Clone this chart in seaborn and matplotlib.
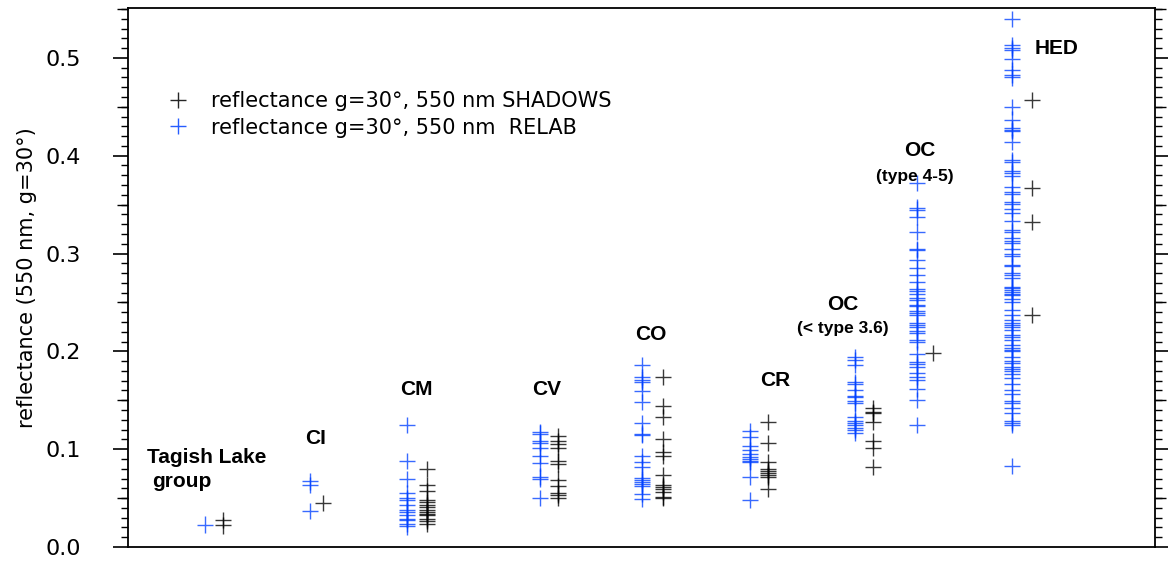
import numpy as np
import pandas as pd
import matplotlib
matplotlib.use("Agg")
import matplotlib.pyplot as plt
import seaborn as sns

# ---------------- data ----------------
groups = ["Tagish Lake", "CI", "CM", "CV", "CO", "CR", "OC<3.6", "OC4-5", "HED"]

relab_tagish = [0.023]
relab_ci = [0.067, 0.063, 0.037]
relab_cm = [0.125, 0.088, 0.0695, 0.0556, 0.050, 0.048, 0.043, 0.038, 0.036, 0.033,
            0.029, 0.0276, 0.024, 0.021]
relab_cv = [0.118, 0.116, 0.108, 0.106, 0.101, 0.093, 0.0856, 0.072, 0.070, 0.0505]
relab_co = [0.186, 0.1735, 0.171, 0.169, 0.159, 0.148, 0.1265, 0.116, 0.1145, 0.093,
            0.0873, 0.0815, 0.071, 0.069, 0.066, 0.064, 0.062, 0.054, 0.049]
relab_cr = [0.119, 0.112, 0.103, 0.099, 0.095, 0.092, 0.090, 0.088, 0.0866, 0.072, 0.048]
relab_oc36 = [0.194, 0.191, 0.186, 0.169, 0.167, 0.161, 0.154, 0.153, 0.149, 0.147,
              0.1326, 0.129, 0.127, 0.125, 0.122, 0.120, 0.117]
relab_oc45 = [0.3725, 0.347, 0.345, 0.337, 0.322, 0.305, 0.304, 0.2935, 0.285, 0.278,
              0.271, 0.2635, 0.262, 0.259, 0.255, 0.253, 0.247, 0.246, 0.241, 0.239,
              0.237, 0.229, 0.227, 0.225, 0.221, 0.219, 0.212, 0.210, 0.197, 0.189,
              0.187, 0.184, 0.178, 0.1735, 0.171, 0.162, 0.150, 0.125]
relab_hed = [0.540, 0.513, 0.510, 0.508, 0.499, 0.488, 0.483, 0.480, 0.450, 0.437,
             0.428, 0.426, 0.425, 0.414, 0.396, 0.394, 0.384, 0.382, 0.379, 0.368,
             0.363, 0.361, 0.353, 0.351, 0.346, 0.341, 0.333, 0.324, 0.322, 0.316,
             0.313, 0.3105, 0.305, 0.300, 0.297, 0.288, 0.287, 0.280, 0.278, 0.275,
             0.266, 0.2645, 0.263, 0.261, 0.259, 0.258, 0.254, 0.250, 0.242, 0.237,
             0.232, 0.229, 0.227, 0.225, 0.222, 0.217, 0.215, 0.212, 0.2065, 0.203,
             0.201, 0.200, 0.194, 0.1905, 0.188, 0.184, 0.182, 0.180, 0.177, 0.1725,
             0.167, 0.1605, 0.156, 0.149, 0.147, 0.142, 0.137, 0.129, 0.127, 0.125,
             0.083]

shadows_tagish = [0.028, 0.022]
shadows_ci = [0.045]
shadows_cm = [0.080, 0.063, 0.057, 0.048, 0.046, 0.043, 0.041, 0.038, 0.036, 0.034,
              0.033, 0.029, 0.027, 0.024]
shadows_cv = [0.1135, 0.108, 0.105, 0.1015, 0.088, 0.085, 0.069, 0.062, 0.055, 0.053, 0.050]
shadows_co = [0.1735, 0.1445, 0.133, 0.110, 0.0975, 0.093, 0.0736, 0.0634, 0.0617,
              0.059, 0.0566, 0.051, 0.050]
shadows_cr = [0.128, 0.106, 0.0866, 0.080, 0.078, 0.076, 0.0736, 0.072, 0.059]
shadows_oc36 = [0.142, 0.138, 0.1365, 0.1275, 0.1087, 0.101, 0.082]
shadows_oc45 = [0.198]
shadows_hed = [0.457, 0.367, 0.332, 0.237]

relab_all = [relab_tagish, relab_ci, relab_cm, relab_cv, relab_co, relab_cr,
             relab_oc36, relab_oc45, relab_hed]
shadows_all = [shadows_tagish, shadows_ci, shadows_cm, shadows_cv, shadows_co,
               shadows_cr, shadows_oc36, shadows_oc45, shadows_hed]

lab_shadows = "reflectance g=30°, 550 nm SHADOWS"
lab_relab = "reflectance g=30°, 550 nm  RELAB"

# ---------------- layout ----------------
relab_x = [205, 310, 407, 540, 642, 750, 855, 917, 1012]
shadows_x = [223, 323, 427, 558, 663, 768, 873, 933, 1032]

rows = []
for g, xs, vals in zip(groups, shadows_x, shadows_all):
    for v in vals:
        rows.append({"group": g, "x": xs, "value": v, "source": lab_shadows})
for g, xs, vals in zip(groups, relab_x, relab_all):
    for v in vals:
        rows.append({"group": g, "x": xs, "value": v, "source": lab_relab})
df = pd.DataFrame(rows)

sns.set_theme(style="white")
plt.rcParams["font.family"] = ["DejaVu Sans"]
plt.rcParams["text.color"] = "black"

fig = plt.figure(figsize=(11.68, 5.65), dpi=100)
ax = fig.add_axes([128 / 1168, 18 / 565, (1155 - 128) / 1168, (547 - 8) / 565])

blue = "#0040ff"
sns.scatterplot(data=df, x="x", y="value", hue="source",
                palette={lab_shadows: "black", lab_relab: blue},
                hue_order=[lab_shadows, lab_relab],
                marker="+", s=135, linewidth=1.0, alpha=0.78, ax=ax, legend=True)

ax.set_xlim(128, 1155)
ax.set_ylim(0, 0.551)
ax.set_xlabel("")
ax.set_xticks([])

# medium ticks at 0.05 positions (twin axis) -- created first so main ticks survive
ax2 = ax.twinx()
ax2.set_ylim(ax.get_ylim())
ax2.set_yticks(np.arange(0.05, 0.551, 0.1))
ax2.tick_params(axis="y", left=True, right=True, direction="out", length=8,
                width=1.0, labelleft=False, labelright=False, color="black")
for sp in ax2.spines.values():
    sp.set_visible(False)

ax.set_ylabel("reflectance (550 nm, g=30°)", fontsize=15, labelpad=6, color="black")
ax.set_yticks([0.0, 0.1, 0.2, 0.3, 0.4, 0.5])
ax.set_yticks(np.arange(0, 0.551, 0.01), minor=True)
ax.yaxis.set_major_formatter(matplotlib.ticker.FormatStrFormatter("%.1f"))
ax.tick_params(axis="y", which="major", left=True, right=True, direction="out",
               length=11, width=1.2, labelsize=16, color="black",
               labelcolor="black", pad=23, labelleft=True, labelright=False)
ax.tick_params(axis="y", which="minor", left=True, right=True, direction="out",
               length=5, width=1.0, color="black")
for sp in ax.spines.values():
    sp.set_visible(True)
    sp.set_color("black")
    sp.set_linewidth(1.3)

leg = ax.legend(loc="upper left", bbox_to_anchor=(0.010, 0.88), frameon=False,
                fontsize=15, handletextpad=0.6, labelspacing=0.3,
                markerscale=1.0)
for h in leg.legend_handles:
    h.set_alpha(0.85)
for t in leg.get_texts():
    t.set_color("black")

# group labels
bold = dict(fontsize=15, fontweight="bold", family="Liberation Sans",
            ha="center", va="center", color="black")
small = dict(fontsize=12.5, fontweight="bold", family="Liberation Sans",
             ha="center", va="center", color="black")
ax.text(207, 0.092, "Tagish Lake", **bold)
ax.text(182, 0.0665, "group", **bold)
ax.text(316, 0.111, "CI", **bold)
ax.text(416, 0.1615, "CM", **bold)
ax.text(547, 0.1615, "CV", **bold)
ax.text(651, 0.217, "CO", **bold)
ax.text(775, 0.170, "CR", **bold)
ax.text(843, 0.2475, "OC", **bold)
ax.text(843, 0.223, "(< type 3.6)", **small)
ax.text(920, 0.405, "OC", **bold)
ax.text(915, 0.379, "(type 4-5)", **small)
ax.text(1057, 0.510, "HED", **bold)

fig.savefig("out.png", dpi=100)
